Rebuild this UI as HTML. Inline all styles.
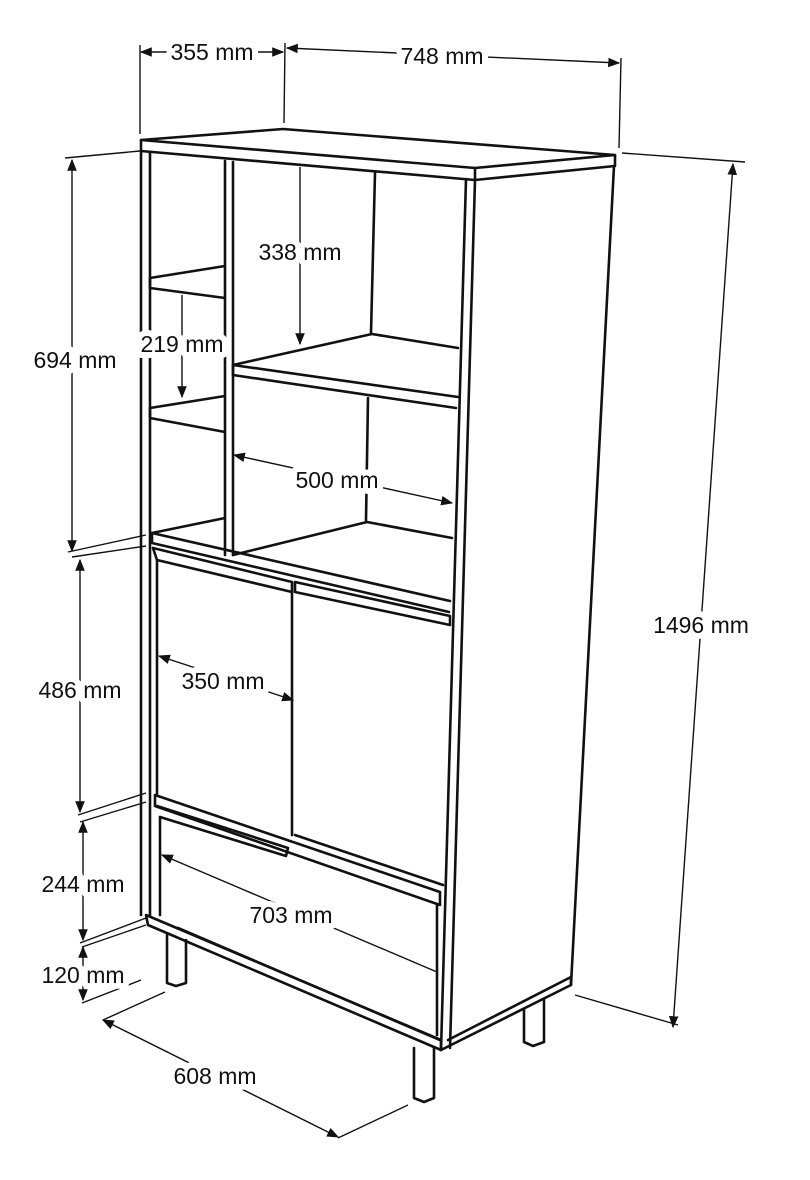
<!DOCTYPE html>
<html><head><meta charset="utf-8"><style>
html,body{margin:0;padding:0;background:#fff;}
svg{display:block}
text{font-family:"Liberation Sans",sans-serif;font-size:23px;fill:#111;paint-order:stroke;stroke:#fff;stroke-width:12px;stroke-linejoin:round}
.c{fill:none;stroke:#111;stroke-width:2.6;stroke-linejoin:round;stroke-linecap:round}
.t{fill:none;stroke:#111;stroke-width:1.4}
.d{fill:none;stroke:#111;stroke-width:1.4}
</style></head><body>
<svg width="810" height="1180" viewBox="0 0 810 1180" xmlns="http://www.w3.org/2000/svg">
<defs>
<marker id="a" viewBox="0 0 10 10" refX="9" refY="5" markerWidth="12" markerHeight="12" orient="auto-start-reverse" markerUnits="userSpaceOnUse"><path d="M0,1 L10,5 L0,9 z" fill="#111"/></marker>
</defs>
<g class="c">
<path d="M141,140 L283,129 L615,155 L475,168 Z"/>
<path d="M141,140 L141,151 L475,180 L475,168"/>
<path d="M475,180 L615,166 L615,155"/>
<path d="M141,151 L141,915"/><path d="M150,152 L150,915"/>
<path d="M466,179 L441,1050"/><path d="M475,180 L450,1048"/>
<path d="M614,166 L571,985"/>
<path d="M441,1050 L571,985 L571,977 L448,1040"/>
<path d="M225,161 L225,555"/><path d="M233,162 L233,555"/>
<path d="M375,173 L371,333"/><path d="M368,398 L366,520"/>
<path d="M150,278 L225,266"/><path d="M150,278 L150,288 L225,298"/>
<path d="M150,408 L225,396"/><path d="M150,408 L150,418 L225,432"/>
<path d="M233,365 L372,334 L458,348"/><path d="M233,365 L233,375 L456,408 M233,365 L458,397"/>
<path d="M152,533 L225,518"/><path d="M233,555 L367,522 L452,538"/>
<path d="M152,533 L152,543 L449,612 M152,533 L450,601"/>
<path d="M153,548 L292,582 L292,592 L157,560 L153,548"/>
<path d="M157,560 L157,795"/>
<path d="M292,592 L292,835"/>
<path d="M155,795 L440,892 L440,905 L155,806 Z"/>
<path d="M295,582 L450,616 L450,625 L295,592 Z"/>
<path d="M295,835 L443,885"/>
<path d="M157,806 L288,848 L286,856 L160,817"/>
<path d="M160,817 L160,915"/><path d="M437,905 L437,1035"/>
<path d="M146,915 L441,1040 L441,1050 L148,925 Z"/>
<path d="M178,928 L440,1040"/>
<path d="M167,935 L167,983 L176,986 L186,983 L186,940"/>
<path d="M414,1048 L414,1098 L424,1102 L434,1098 L434,1048"/>
<path d="M524,1010 L524,1042 L533,1046 L544,1042 L544,1000"/>
</g>
<g class="t">
<line x1="140" y1="45" x2="140" y2="134"/>
<line x1="285" y1="43" x2="284" y2="123"/>
<line x1="621" y1="58" x2="619" y2="148"/>
<line x1="65" y1="158" x2="140" y2="151"/>
<line x1="68" y1="552" x2="146" y2="535"/>
<line x1="72" y1="557" x2="146" y2="546"/>
<line x1="78" y1="815" x2="146" y2="793"/>
<line x1="80" y1="822" x2="146" y2="802"/>
<line x1="80" y1="943" x2="146" y2="918"/>
<line x1="82" y1="947" x2="146" y2="925"/>
<line x1="82" y1="1003" x2="141" y2="980"/>
<line x1="103" y1="1020" x2="165" y2="992"/>
<line x1="338" y1="1138" x2="408" y2="1105"/>
<line x1="622" y1="153" x2="745" y2="162"/>
<line x1="575" y1="995" x2="678" y2="1025"/>
</g>
<g class="d">
<line x1="141" y1="52" x2="283" y2="52" marker-start="url(#a)" marker-end="url(#a)"/>
<line x1="287" y1="48" x2="619" y2="63" marker-start="url(#a)" marker-end="url(#a)"/>
<line x1="72" y1="160" x2="72" y2="551" marker-start="url(#a)" marker-end="url(#a)"/>
<line x1="80" y1="560" x2="80" y2="812" marker-start="url(#a)" marker-end="url(#a)"/>
<line x1="83" y1="822" x2="83" y2="940" marker-start="url(#a)" marker-end="url(#a)"/>
<line x1="83" y1="947" x2="83" y2="1000" marker-start="url(#a)" marker-end="url(#a)"/>
<line x1="103" y1="1020" x2="338" y2="1137" marker-start="url(#a)" marker-end="url(#a)"/>
<line x1="733" y1="164" x2="673" y2="1027" marker-start="url(#a)" marker-end="url(#a)"/>
<line x1="300" y1="167" x2="300" y2="344" marker-end="url(#a)"/>
<line x1="182" y1="295" x2="182" y2="397" marker-end="url(#a)"/>
<line x1="234" y1="455" x2="452" y2="503" marker-start="url(#a)" marker-end="url(#a)"/>
<line x1="159" y1="656" x2="293" y2="700" marker-start="url(#a)" marker-end="url(#a)"/>
<line x1="162" y1="855" x2="437" y2="972" marker-start="url(#a)"/>
</g>
<text x="212" y="60" text-anchor="middle">355 mm</text>
<text x="442" y="64" text-anchor="middle">748 mm</text>
<text x="75" y="368" text-anchor="middle">694 mm</text>
<text x="80" y="698" text-anchor="middle">486 mm</text>
<text x="83" y="892" text-anchor="middle">244 mm</text>
<text x="83" y="983" text-anchor="middle">120 mm</text>
<text x="215" y="1084" text-anchor="middle">608 mm</text>
<text x="701" y="633" text-anchor="middle">1496 mm</text>
<text x="300" y="260" text-anchor="middle">338 mm</text>
<text x="182" y="352" text-anchor="middle">219 mm</text>
<text x="337" y="488" text-anchor="middle">500 mm</text>
<text x="223" y="689" text-anchor="middle">350 mm</text>
<text x="291" y="923" text-anchor="middle">703 mm</text>
</svg>
</body></html>
